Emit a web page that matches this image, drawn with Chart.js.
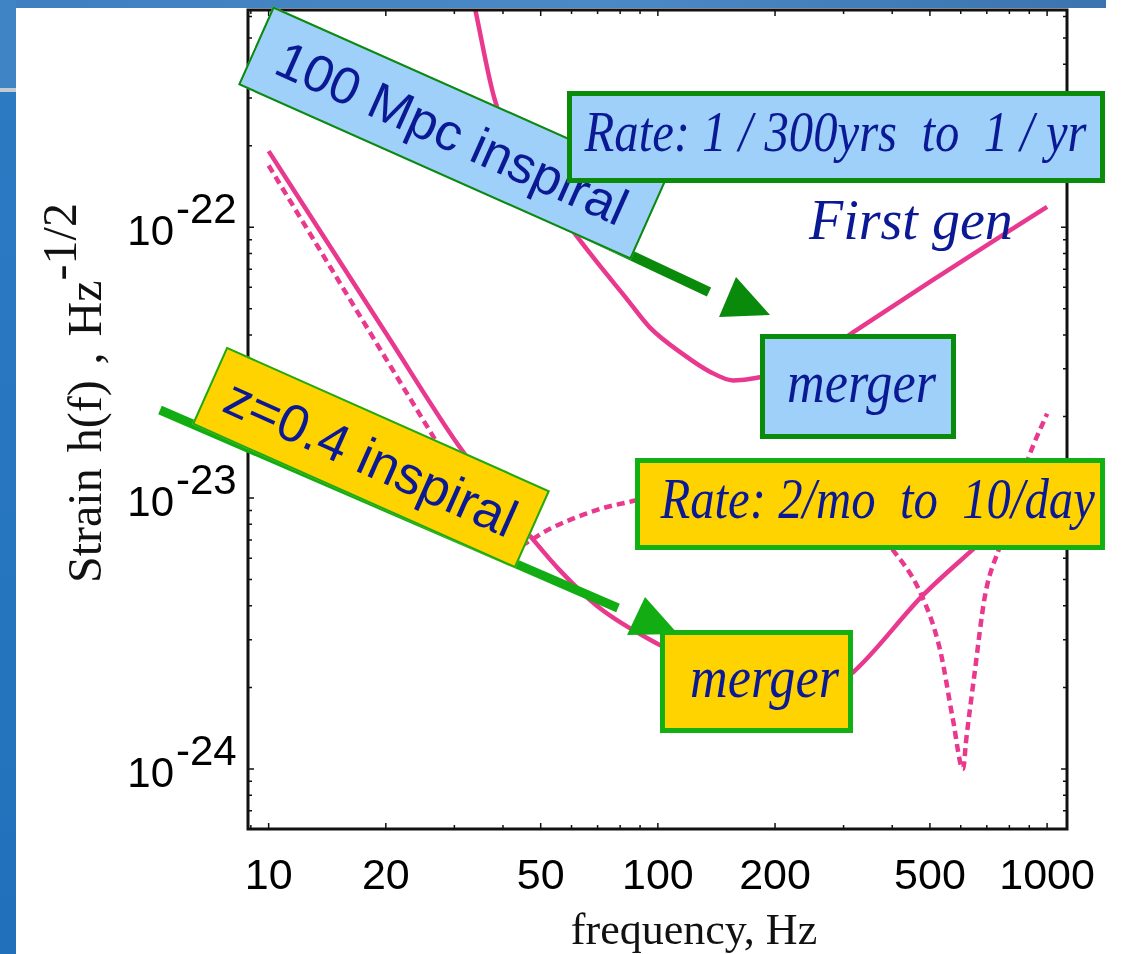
<!DOCTYPE html>
<html>
<head>
<meta charset="utf-8">
<script src="https://cdn.jsdelivr.net/npm/chart.js@4.4.1/dist/chart.umd.min.js"></script>
<style>
  html, body { margin: 0; padding: 0; background: #fff; }
  #stage { position: relative; width: 1124px; height: 954px; overflow: hidden; background: #fff; }
  #band-top { position: absolute; left: 0; top: 0; width: 1106px; height: 8px;
    background: linear-gradient(to right, #3d7fc0, #4b89c6 55%, #3b73ae); }
  #band-left { position: absolute; left: 0; top: 0; width: 16px; height: 954px;
    background: linear-gradient(to bottom, #3f84c4 0, #3f84c4 88px, #c3cbd2 88px, #c3cbd2 92px, #2b7ac2 92px, #2170bb 100%); }
  canvas, svg { position: absolute; left: 0; top: 0; }
  .box { position: absolute; box-sizing: border-box; white-space: pre; color: #0b1a94; }
  .tilt { transform: rotate(24deg); font-family: 'Liberation Sans', Arial, sans-serif; text-align: center; }
  .note { font-family: 'Liberation Serif', 'Times New Roman', serif; font-style: italic; }
  .framed { display: flex; align-items: center; justify-content: center; }
  .framed span { display: inline-block; transform: translateY(-5px) scaleX(0.87); }
  .blue { background: #9ed0fa; }
  .gold { background: #ffd300; }
  .axis-title { position: absolute; white-space: pre; font-family: 'Liberation Serif', 'Times New Roman', serif; color: #111; }
</style>
</head>
<body>
<div id="stage">
  <div id="band-top"></div>
  <div id="band-left"></div>
  <canvas id="chart" width="1124" height="954"></canvas>

  <svg width="1124" height="954">
    <line x1="560" y1="222" x2="709" y2="292" stroke="#0a8a0a" stroke-width="10"/>
    <polygon points="719,317 736,277 770,315" fill="#0a8a0a"/>
    <line x1="160" y1="410" x2="618" y2="608" stroke="#12ad12" stroke-width="9"/>
    <polygon points="627,635 645,597 678,634" fill="#12ad12"/>
  </svg>

  <div class="box tilt blue" style="left:237px; top:90px; width:430px; height:86px; border:2px solid #0b8a0b; line-height:82px; font-size:52px;">100 Mpc inspiral</div>
  <div class="box note framed blue" style="left:567px; top:91px; width:538px; height:92px; border:5px solid #0a8c0a; line-height:70px; font-size:56px;"><span>Rate: 1 / 300yrs  to  1 / yr</span></div>
  <div class="box note" style="left:809px; top:192px; font-size:56px; line-height:56px;">First gen</div>
  <div class="box note framed blue" style="left:760px; top:334px; width:196px; height:105px; border:5px solid #0a8c0a; line-height:70px; font-size:60px; padding-left:8px;"><span>merger</span></div>

  <div class="box tilt gold" style="left:194px; top:415px; width:354px; height:85px; border:2px solid #1aaa1a; line-height:81px; font-size:53px;">z=0.4 inspiral</div>
  <div class="box note framed gold" style="left:635px; top:458px; width:470px; height:92px; border:5px solid #12b012; line-height:70px; font-size:56px; padding-left:16px;"><span>Rate: 2/mo  to  10/day</span></div>
  <div class="box note framed gold" style="left:660px; top:630px; width:193px; height:103px; border:5px solid #12b012; line-height:70px; font-size:60px; padding-left:16px;"><span>merger</span></div>

  <div class="axis-title" style="left:61px; top:583px; font-size:48px; line-height:48px; word-spacing:4px; transform-origin:0 0; transform:rotate(-90deg);">Strain h(f) , Hz<span style="position:relative; top:-25px;">-1/2</span></div>
  <div class="axis-title" style="left:494px; top:908px; width:400px; text-align:center; font-size:44px; line-height:44px;">frequency, Hz</div>
</div>

<script>
// Initial (first generation) detector noise amplitude, solid
const freqInitial   = [32, 34, 38, 45, 52, 60.5, 70, 82.7, 95.3, 116, 136, 156, 180, 220, 270, 323, 500, 1000];
const strainInitial = [9.5e-22, 6.3e-22, 3.0e-22, 1.75e-22, 1.3e-22, 9.67e-23, 7.38e-23, 5.5e-23, 4.27e-23, 3.40e-23,
                       2.93e-23, 2.72e-23, 2.78e-23, 3.02e-23, 3.5e-23, 4.16e-23, 6.29e-23, 1.19e-22];

// Advanced detector, broadband configuration, solid
const freqBroadband   = [10, 20, 30.6, 38, 46.9, 56, 71, 101, 130, 170, 210, 250, 285, 319, 480, 661, 800, 1000];
const strainBroadband = [1.91e-22, 4.07e-23, 1.58e-23, 1.05e-23, 7.26e-24, 5.41e-24, 3.92e-24, 2.87e-24, 2.4e-24,
                         2.05e-24, 1.9e-24, 1.92e-24, 2.05e-24, 2.29e-24, 4.38e-24, 6.67e-24, 8.55e-24, 1.14e-23];

// Advanced detector, narrowband tuning with its dip near 600 Hz, dashed
const freqTuned   = [10, 26.2, 32, 36, 40, 43, 46, 52.7, 71, 86.3, 120, 170, 250, 300, 350, 394,
                     472, 531, 573, 608, 620, 649, 693, 757, 904, 1000];
const strainTuned = [1.69e-22, 1.73e-23, 1.08e-23, 8.0e-24, 6.6e-24, 6.5e-24, 6.84e-24, 7.69e-24, 9.11e-24, 9.75e-24,
                     1.08e-23, 1.13e-23, 1.05e-23, 9.5e-24, 8.2e-24, 6.67e-24,
                     4.49e-24, 2.75e-24, 1.52e-24, 1.0e-24, 1.29e-24, 2.17e-24, 4.38e-24, 6.67e-24, 1.46e-23, 2.05e-23];

const xTickLabels = [10, 20, 50, 100, 200, 500, 1000];
const yTickExponents = [-22, -23, -24];

const curvePink = '#e9398f';
const toPoints = (fs, hs) => fs.map((f, i) => ({ x: f, y: hs[i] }));

// Boxed frame with inward tick marks on all four sides, plus power-of-ten labels
const frame = {
  id: 'frame',
  afterDraw(chart) {
    const { ctx, chartArea: a, scales: { x, y } } = chart;
    ctx.save();
    ctx.strokeStyle = '#111';
    ctx.lineWidth = 1.5;
    for (const d of [1, 10, 100, 1000]) {
      for (let m = 1; m <= 9; m++) {
        const v = m * d;
        if (v < x.min || v > x.max) continue;
        const px = x.getPixelForValue(v);
        const len = xTickLabels.includes(v) ? 6 : 4;
        ctx.beginPath();
        ctx.moveTo(px, a.bottom); ctx.lineTo(px, a.bottom - len);
        ctx.moveTo(px, a.top); ctx.lineTo(px, a.top + len);
        ctx.stroke();
      }
    }
    for (let e = -26; e <= -21; e++) {
      for (let m = 1; m <= 9; m++) {
        const v = m * Math.pow(10, e);
        if (v < y.min || v > y.max) continue;
        const py = y.getPixelForValue(v);
        const len = m === 1 ? 6 : 4;
        ctx.beginPath();
        ctx.moveTo(a.left, py); ctx.lineTo(a.left + len, py);
        ctx.moveTo(a.right, py); ctx.lineTo(a.right - len, py);
        ctx.stroke();
      }
    }
    ctx.lineWidth = 3;
    ctx.strokeRect(a.left, a.top, a.right - a.left, a.bottom - a.top);

    ctx.fillStyle = '#000';
    ctx.font = '42px "Liberation Sans", Arial, sans-serif';
    ctx.textBaseline = 'alphabetic';
    for (const e of yTickExponents) {
      const py = y.getPixelForValue(Math.pow(10, e));
      const split = a.left - 74;
      ctx.textAlign = 'right';
      ctx.fillText('10', split, py + 18);
      ctx.textAlign = 'left';
      ctx.fillText(String(e), split + 2, py - 4);
    }
    ctx.restore();
  }
};

new Chart(document.getElementById('chart'), {
  type: 'line',
  data: {
    datasets: [
      { label: 'First generation', data: toPoints(freqInitial, strainInitial),
        borderColor: curvePink, borderWidth: 4.5, pointRadius: 0, fill: false, cubicInterpolationMode: 'monotone' },
      { label: 'Advanced, broadband', data: toPoints(freqBroadband, strainBroadband),
        borderColor: curvePink, borderWidth: 4.5, pointRadius: 0, fill: false, cubicInterpolationMode: 'monotone' },
      { label: 'Advanced, tuned', data: toPoints(freqTuned, strainTuned),
        borderColor: curvePink, borderWidth: 4.5, borderDash: [8, 5], pointRadius: 0, fill: false, cubicInterpolationMode: 'monotone' }
    ]
  },
  options: {
    responsive: false,
    animation: false,
    devicePixelRatio: 1,
    layout: { padding: { top: 10, right: 57, left: 0, bottom: 0 } },
    plugins: { legend: { display: false }, tooltip: { enabled: false }, title: { display: false } },
    scales: {
      x: {
        type: 'logarithmic', position: 'bottom', min: 8.85, max: 1125,
        afterBuildTicks: s => { s.ticks = xTickLabels.map(v => ({ value: v })); },
        afterFit: s => { s.height = 125; },
        grid: { display: false, drawTicks: false },
        border: { display: false },
        ticks: { autoSkip: false, maxRotation: 0, padding: 22, color: '#000',
                 font: { family: 'Liberation Sans', size: 43 }, callback: v => String(v) }
      },
      y: {
        type: 'logarithmic', position: 'left', min: 6.34e-25, max: 6.34e-22,
        afterFit: s => { s.width = 248; },
        grid: { display: false, drawTicks: false },
        border: { display: false },
        ticks: { display: false }
      }
    }
  },
  plugins: [frame]
});
</script>
</body>
</html>
